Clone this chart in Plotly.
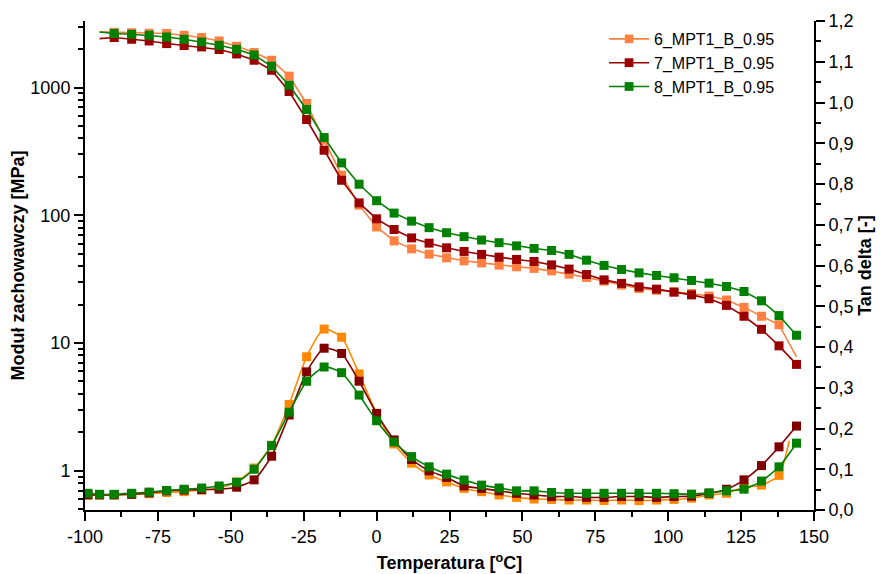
import plotly.graph_objects as go

# Temperature grid [°C]
temp = [-95, -90, -84, -78, -72, -66, -60, -54, -48, -42, -36, -30, -24, -18, -12, -6,
        0, 6, 12, 18, 24, 30, 36, 42, 48, 54, 60, 66, 72, 78, 84, 90, 96, 102, 108,
        114, 120, 126, 132, 138, 144]
temp_tan = [-99] + temp
temp_tan6 = temp_tan[:-1] + [141.5]

# Storage modulus [MPa]
e6 = [2733, 2710, 2685, 2660, 2648, 2566, 2462, 2316, 2104, 1879, 1636, 1228, 750, 387,
      206, 120, 81, 63, 54.6, 49.6, 46.4, 44, 42.4, 40.7, 39.5, 38.4, 36.7, 34.6, 32.6,
      30.5, 28.4, 26.7, 25.9, 25.2, 24.4, 23.3, 21.7, 19, 16.2, 13.9, 7.8]
e7 = [2417, 2462, 2388, 2316, 2209, 2132, 2080, 1984, 1832, 1636, 1366, 931, 562, 323,
      188, 125, 93.8, 77.4, 66.5, 60.5, 55.6, 52.1, 49.4, 47, 45.1, 43.5, 40.9, 37.9,
      34.4, 31.2, 29.3, 27.5, 26.4, 25, 23.8, 22.2, 19.7, 16.2, 12.8, 9.5, 6.8]
e8 = [2723, 2648, 2612, 2566, 2488, 2388, 2275, 2143, 1993, 1799, 1468, 1043, 673, 406,
      257, 175, 130, 104, 90, 80, 73, 68, 64, 61, 57.6, 55, 53, 49.4, 44.5, 40.5, 37.6,
      35.4, 33.8, 32.4, 30.9, 29.4, 27.7, 25.3, 21.4, 16.4, 11.5]

# Tan delta [-]
tan6 = [0.037, 0.037, 0.037, 0.038, 0.040, 0.043, 0.045, 0.049, 0.054, 0.069, 0.103,
        0.159, 0.259, 0.376, 0.444, 0.424, 0.334, 0.237, 0.162, 0.115, 0.086, 0.069,
        0.053, 0.045, 0.037, 0.031, 0.027, 0.026, 0.0245, 0.0245, 0.023, 0.0245, 0.023,
        0.0245, 0.026, 0.029, 0.037, 0.041, 0.056, 0.061, 0.085, 0.17]
tan7 = [0.037, 0.037, 0.037, 0.0385, 0.042, 0.047, 0.049, 0.050, 0.051, 0.056, 0.074,
        0.132, 0.233, 0.339, 0.397, 0.384, 0.316, 0.237, 0.172, 0.124, 0.096, 0.080,
        0.059, 0.053, 0.047, 0.041, 0.037, 0.033, 0.033, 0.031, 0.031, 0.033, 0.033,
        0.031, 0.033, 0.034, 0.041, 0.051, 0.074, 0.109, 0.155, 0.206]
tan8 = [0.041, 0.0385, 0.0385, 0.041, 0.044, 0.048, 0.051, 0.054, 0.059, 0.068, 0.100,
        0.158, 0.240, 0.316, 0.351, 0.337, 0.282, 0.219, 0.167, 0.131, 0.106, 0.088,
        0.0736, 0.061, 0.054, 0.047, 0.047, 0.043, 0.041, 0.041, 0.041, 0.041, 0.041,
        0.041, 0.040, 0.039, 0.042, 0.047, 0.051, 0.071, 0.106, 0.164]

names = ["6_MPT1_B_0.95", "7_MPT1_B_0.95", "8_MPT1_B_0.95"]
e_colors = ["#FF8040", "#9A0000", "#008000"]
t_colors = ["#FF8800", "#800000", "#008000"]

x_ticks = [-100, -75, -50, -25, 0, 25, 50, 75, 100, 125, 150]
x_labels = ["-100", "-75", "-50", "-25", "0", "25", "50", "75", "100", "125", "150"]

MS = 9
n = len(temp)
sizes_e = [[0] + [MS] * (n - 1) for _ in range(3)]
sizes_e[0][-1] = 0
sizes_t = [[MS] * len(temp_tan) for _ in range(3)]
sizes_t[0][-1] = 0

fig = go.Figure()
for name, y, c, s in zip(names, [e6, e7, e8], e_colors, sizes_e):
    fig.add_trace(go.Scatter(
        x=temp, y=y, name=name, mode="lines+markers",
        line=dict(color=c, width=1.6),
        marker=dict(symbol="square", size=s, color=c, opacity=1, line=dict(width=0)),
        yaxis="y", showlegend=True))

for name, xs, y, c, s in zip(names, [temp_tan6, temp_tan, temp_tan], [tan6, tan7, tan8], t_colors, sizes_t):
    fig.add_trace(go.Scatter(
        x=xs, y=y, name=name, mode="lines+markers",
        line=dict(color=c, width=1.6, shape="spline", smoothing=0.6),
        marker=dict(symbol="square", size=s, color=c, opacity=1, line=dict(width=0)),
        yaxis="y2", showlegend=False))

font = "Liberation Sans, Arial, sans-serif"
minor_log = [m * 10 ** k for k in range(-1, 4) for m in range(2, 10) if 0.49 < m * 10 ** k < 3400]

tick_common = dict(showline=True, linewidth=2, linecolor="black", ticks="outside",
                   ticklen=9, tickwidth=2, tickcolor="black", showgrid=False,
                   zeroline=False, automargin=False, tickfont=dict(size=18))

# The page body has an 8px margin, so the figure is 876x566 and offset accordingly.
fig.update_layout(
    width=876, height=566,
    margin=dict(l=77, r=70, t=13, b=64, autoexpand=False),
    paper_bgcolor="white", plot_bgcolor="white",
    font=dict(family=font, size=18, color="black"),
    separators=",.",
    showlegend=True,
    legend=dict(x=0.712, y=0.998, xanchor="left", yanchor="top",
                bgcolor="rgba(0,0,0,0)", font=dict(size=16), tracegroupgap=0,
                itemwidth=40),
    xaxis=dict(
        range=[-100, 150], tickmode="array", tickvals=x_ticks, ticktext=x_labels,
        minor=dict(dtick=12.5, tick0=0, ticks="outside", ticklen=5, tickwidth=2, tickcolor="black"),
        title=dict(text="<b>Temperatura [<sup>o</sup>C]</b>", font=dict(size=18), standoff=11),
        **tick_common,
    ),
    yaxis=dict(
        type="log", range=[-0.3075, 3.521],
        tickmode="array", tickvals=[1, 10, 100, 1000], ticktext=["1", "10", "100", "1000"],
        minor=dict(tickmode="array", tickvals=minor_log, ticks="outside", ticklen=5,
                   tickwidth=2, tickcolor="black"),
        title=dict(text="<b>Moduł zachowawczy [MPa]</b>", font=dict(size=18), standoff=6),
        **tick_common,
    ),
    yaxis2=dict(
        overlaying="y", side="right", range=[0, 1.2], dtick=0.1, tick0=0, tickformat=".1f",
        minor=dict(dtick=0.05, ticks="outside", ticklen=5, tickwidth=2, tickcolor="black"),
        title=dict(text="<b>Tan delta [-]</b>", font=dict(size=18), standoff=6),
        **tick_common,
    ),
)

fig.write_html("out.html")
